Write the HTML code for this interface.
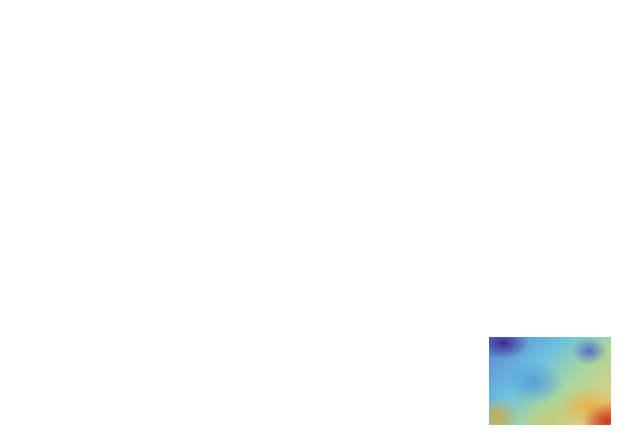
<!DOCTYPE html>
<html><head><style>
html,body{margin:0;padding:0;background:#fff;width:632px;height:440px;overflow:hidden}
#m{position:absolute;left:489px;top:337px;width:122px;height:88px;
background:
radial-gradient(ellipse 18px 14px at 100px 14px,rgba(70,90,200,.8),transparent),
radial-gradient(ellipse 26px 16px at 14px 6px,rgba(60,40,140,.95),transparent),
radial-gradient(ellipse 30px 22px at 45px 45px,rgba(80,150,220,.8),transparent),
radial-gradient(ellipse 24px 18px at 118px 84px,rgba(200,50,30,.95),transparent),
radial-gradient(ellipse 30px 20px at 100px 70px,rgba(240,170,60,.8),transparent),
radial-gradient(ellipse 22px 20px at 8px 80px,rgba(210,170,60,.85),transparent),
radial-gradient(ellipse 30px 20px at 60px 82px,rgba(200,200,110,.7),transparent),
linear-gradient(135deg,#5a7fd0 0%,#6cc0e0 35%,#a8d6a0 60%,#d8cf80 85%,#e09050 100%);}
</style></head><body><div id="m"></div></body></html>
